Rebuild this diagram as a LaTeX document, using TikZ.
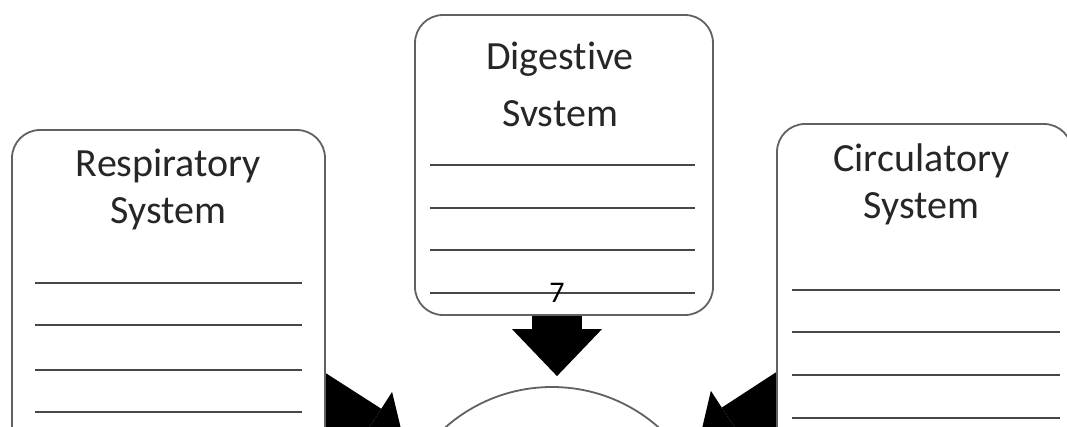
\documentclass[tikz,border=0pt]{standalone}
\usepackage{fontspec}
\setmainfont{Carlito}[Ligatures=NoCommon]
\usetikzlibrary{arrows.meta,positioning,backgrounds}

\begin{document}
\begin{tikzpicture}[x=1pt,y=-1pt,
  sysbox/.style={draw=black!62,line width=1.8pt,rounded corners=28pt,fill=white,inner sep=0pt},
  title/.style={text=black!85,align=center,inner sep=0pt,font=\fontsize{40}{47}\selectfont},
  writeline/.style={draw=black!72,line width=2pt},
  bigarrow/.style={line width=50pt,-{Triangle[length=47pt,width=90pt,line width=0pt]},shorten >=10pt}]

                \useasboundingbox (0,0) rectangle (1067,426);
                \clip (0,0) rectangle (1067,426);

                % the three system boxes and the hub circle
                \node[sysbox,minimum width=298pt,minimum height=300pt] (dig) at (564,165) {};
                \node[sysbox,minimum width=313pt,minimum height=600pt] (resp) at (168.5,430) {};
                \node[sysbox,minimum width=295pt,minimum height=600pt] (circ) at (924.5,424) {};
                \node[circle,draw=black!62,line width=1.8pt,fill=white,minimum size=322pt] (hub) at (552,548) {};

                \node[title,anchor=north,font=\fontsize{40}{57}\selectfont] (digtitle) [below=28pt of dig.north,xshift=-4pt] {Digestive\\Svstem};
                \node[title,anchor=north] (resptitle) [below=20pt of resp.north] {Respiratory\\System};
                \node[title,anchor=north] (circtitle) [below=20pt of circ.north,xshift=-3pt] {Circulatory\\System};

                % lines to write on
                \foreach \y in {165,208,250,293} \draw[writeline] (430,\y) -- (695,\y);
                \foreach \y in {283,325,370,412} \draw[writeline] (35,\y) -- (302,\y);
                \foreach \y in {290,332,375,418} \draw[writeline] (792,\y) -- (1060,\y);

                \node[inner sep=0pt,font=\fontsize{30}{32}\selectfont] (pagenum) at (557,293) {7};

                % block arrows behind the boxes
                \begin{scope}[on background layer]
                  \coordinate (dstart) at (557,305);
                  \coordinate (lstart) at (312,394);
                  \coordinate (rstart) at (790,393);
                  \draw[bigarrow] (dstart) -- (dstart |- hub.north);
                  \draw[bigarrow] (lstart) -- (hub);
                  \draw[bigarrow] (rstart) -- (hub);
                \end{scope}

            \end{tikzpicture}
\end{document}
